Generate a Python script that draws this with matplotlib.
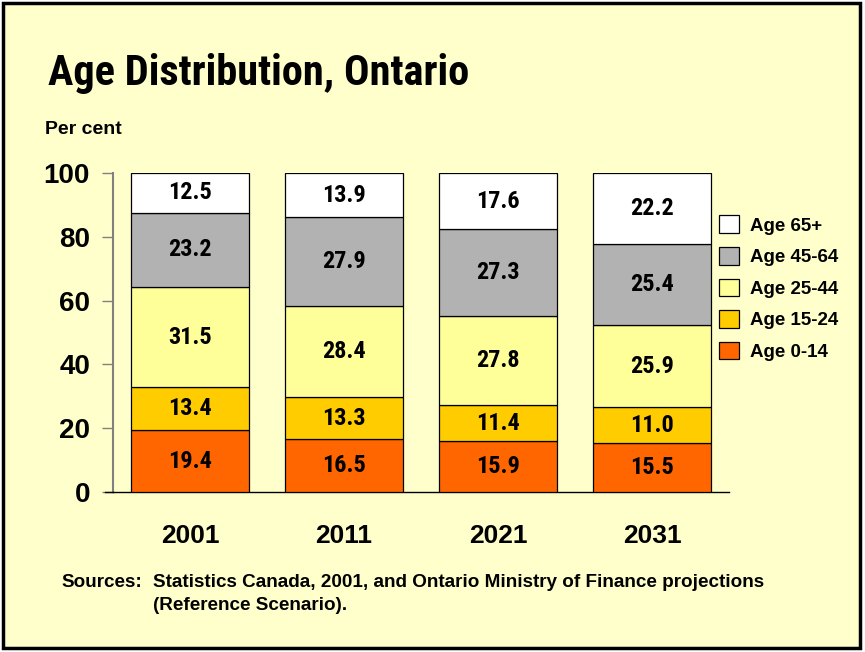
import matplotlib
matplotlib.use("Agg")
import matplotlib.pyplot as plt
import numpy as np
from matplotlib.patches import Rectangle

# Data
years = ["2001", "2011", "2021", "2031"]
age_groups = ["Age 0-14", "Age 15-24", "Age 25-44", "Age 45-64", "Age 65+"]
age_0_14 = [19.4, 16.5, 15.9, 15.5]
age_15_24 = [13.4, 13.3, 11.4, 11.0]
age_25_44 = [31.5, 28.4, 27.8, 25.9]
age_45_64 = [23.2, 27.9, 27.3, 25.4]
age_65_plus = [12.5, 13.9, 17.6, 22.2]
colors = ["#FF6600", "#FFCC00", "#FFFF99", "#B2B2B2", "#FFFFFF"]

series = [age_0_14, age_15_24, age_25_44, age_45_64, age_65_plus]

W, H = 865, 652
fig = plt.figure(figsize=(W / 100, H / 100), dpi=100, facecolor="white")

# Yellow panel with black border
fig.patches.append(Rectangle((3 / W, 4 / H), 857 / W, 645 / H, transform=fig.transFigure,
                             facecolor="#FFFFCC", edgecolor="black", linewidth=2.5, zorder=-5))

ax = fig.add_axes([113 / W, 1 - 492 / H, 616 / W, 319 / H])
ax.set_facecolor("none")

# narrow face for title and bar values (Arial Narrow look)
narrow = ["Roboto Condensed", "Liberation Sans"]
regular = ["Liberation Sans", "DejaVu Sans"]

x = np.arange(len(years))
bottom = np.zeros(len(years))
handles = []
for vals, col, name in zip(series, colors, age_groups):
    bars = ax.bar(x, vals, width=0.77, bottom=bottom, color=col, edgecolor="black",
                  linewidth=0.9, label=name, zorder=3)
    handles.append(bars)
    for xi, b, v in zip(x, bottom, vals):
        ax.text(xi, b + v / 2, f"{v:.1f}", ha="center", va="center",
                fontsize=17.5, fontweight="bold", family=narrow, zorder=4)
    bottom += np.array(vals)

ax.set_xlim(-0.5, 3.5)
ax.set_ylim(0, 100)
ax.set_yticks([0, 20, 40, 60, 80, 100])
ax.set_xticks([])
for s in ["top", "right"]:
    ax.spines[s].set_visible(False)
ax.spines["left"].set_color("#808080")
ax.spines["left"].set_linewidth(1.5)
ax.spines["bottom"].set_color("black")
ax.spines["bottom"].set_linewidth(1.0)
ax.tick_params(axis="y", length=8, width=1.0, color="#808080", pad=8.5)
for lbl in ax.get_yticklabels():
    lbl.set_fontsize(20)
    lbl.set_fontweight("bold")
    lbl.set_family(regular)

# baseline runs a little past the y axis
ax.plot([-0.5 - 8 / 154, -0.5], [0, 0], color="black", lw=1.0, clip_on=False, zorder=5)

for xi, yr in zip(x, years):
    ax.text(xi, -16, yr, ha="center", va="baseline", fontsize=19,
            fontweight="bold", family=regular)

leg = fig.legend(handles[::-1], age_groups[::-1], loc="upper left",
                 bbox_to_anchor=(711 / W, 1 - 208 / H), frameon=False,
                 prop={"family": regular, "weight": "bold", "size": 13.5},
                 handlelength=1.07, handleheight=1.07, labelspacing=0.66,
                 handletextpad=0.6, borderaxespad=0)

fig.text(48 / W, 1 - 85 / H, "Age Distribution, Ontario", fontsize=30.5,
         fontweight="bold", family=narrow, va="baseline")
fig.text(45 / W, 1 - 134 / H, "Per cent", fontsize=14, fontweight="bold",
         family=regular, va="baseline")

fig.text(61 / W, 1 - 587 / H, "Sources:", fontsize=13.6, fontweight="bold",
         family=regular, va="baseline")
fig.text(153 / W, 1 - 587 / H,
         "Statistics Canada, 2001, and Ontario Ministry of Finance projections",
         fontsize=13.6, fontweight="bold", family=regular, va="baseline")
fig.text(153 / W, 1 - 610 / H, "(Reference Scenario).", fontsize=13.6,
         fontweight="bold", family=regular, va="baseline")

fig.savefig("out.png", dpi=100, facecolor=fig.get_facecolor())
